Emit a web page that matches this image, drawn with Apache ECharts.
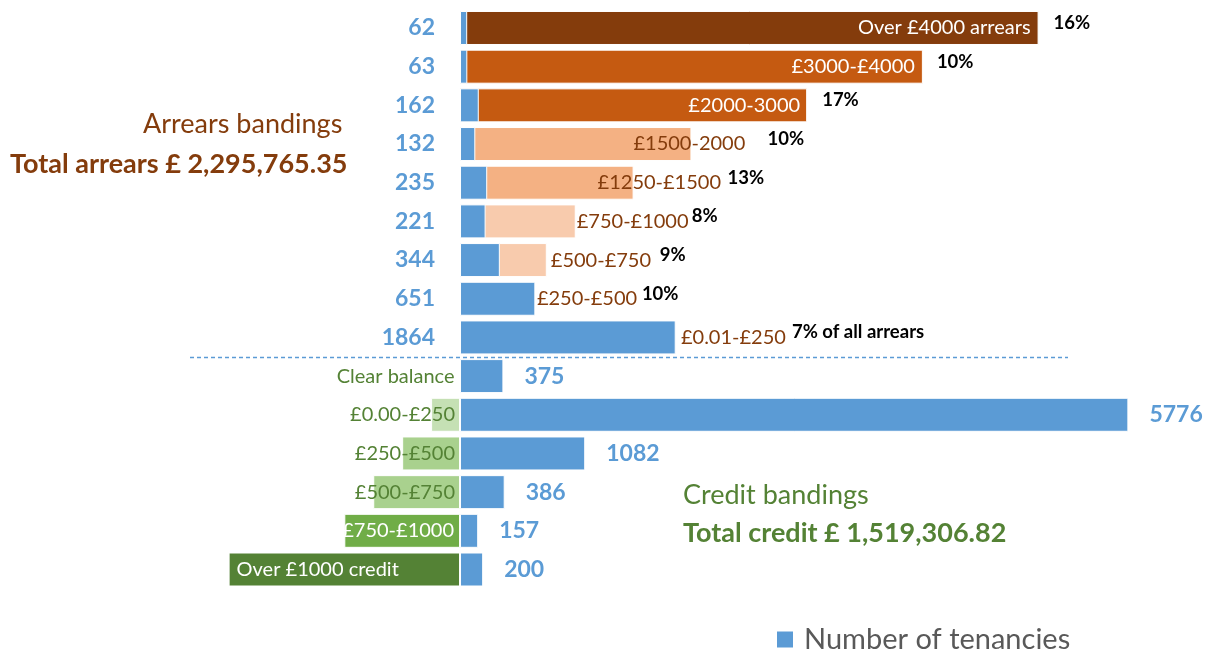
<!DOCTYPE html>
<html>
<head>
<meta charset="utf-8">
<title>Rent balance bandings</title>
<script src="https://cdn.jsdelivr.net/npm/echarts@6/dist/echarts.min.js"></script>
<style>
  html, body { margin: 0; padding: 0; background: #ffffff; }
  #chart { width: 1208px; height: 652px; }
</style>
</head>
<body>
<div id="chart"></div>
<script>
// ---- Data -------------------------------------------------------------
// Arrears bands, highest first; bar length is the band's upper bound (£)
const arrearsBands = ['Over £4000 arrears', '£3000-£4000', '£2000-3000', '£1500-2000', '£1250-£1500',
                      '£750-£1000', '£500-£750', '£250-£500', '£0.01-£250'];
const arrearsUpper = [5000, 4000, 3000, 2000, 1500, 1000, 750, 500, 250];
const arrearsShare = ['16%', '10%', '17%', '10%', '13%', '8%', '9%', '10%', '7% of all arrears'];

// Credit bands, smallest first; bar length is the band's upper bound (£), drawn to the left
const creditBands = ['Clear balance', '£0.00-£250', '£250-£500', '£500-£750', '£750-£1000', 'Over £1000 credit'];
const creditUpper = [0, 250, 500, 750, 1000, 2000];

// Number of tenancies in each band (arrears rows then credit rows)
const tenancies = [62, 63, 162, 132, 235, 221, 344, 651, 1864, 375, 5776, 1082, 386, 157, 200];

const totalArrears = 'Total arrears £ 2,295,765.35';
const totalCredit = 'Total credit £ 1,519,306.82';

// ---- Styling ------------------------------------------------------------
const FONT = 'Lato';
const BLUE = '#5b9bd5';
const BROWN = '#843c0c';
const GREEN = '#548235';

const arrearsColors = ['#843c0c', '#c55a11', '#c55a11', '#f4b183', '#f4b183', '#f8cbad', '#f8cbad', '#fbe5d6', '#fbe5d6'];
const creditColors = ['#e2f0d9', '#c5e0b4', '#a9d18e', '#a9d18e', '#70ad47', '#548235'];

// band-name label placement for the arrears rows
const arrearsLabelPlace = [
  { position: 'insideRight', distance: 8, color: '#ffffff' },
  { position: 'insideRight', distance: 8, color: '#ffffff' },
  { position: 'insideRight', distance: 7, color: '#ffffff' },
  { position: 'right', distance: 0, offset: [-58, 0], color: BROWN },
  { position: 'right', distance: 0, offset: [-36, 0], color: BROWN },
  { position: 'right', distance: 0, offset: [1, 0], color: BROWN },
  { position: 'right', distance: 0, offset: [4, 0], color: BROWN },
  { position: 'right', distance: 0, offset: [19, 0], color: BROWN },
  { position: 'right', distance: 0, offset: [192, 0], color: BROWN }
];
// horizontal nudge of the share labels from the end of each arrears bar
const shareNudge = [15, 14, 15, 76, 94, 116, 113, 124, 303];

// band-name label placement for the credit rows
const creditLabelPlace = [
  { position: 'insideRight', distance: 6, color: GREEN },
  { position: 'insideRight', distance: 5, color: GREEN },
  { position: 'insideRight', distance: 5, color: GREEN },
  { position: 'insideRight', distance: 5, color: GREEN },
  { position: 'insideRight', distance: 6, color: '#ffffff' },
  { position: 'insideLeft', distance: 8, color: '#ffffff' }
];

// ---- Build series data ------------------------------------------------------
const nA = arrearsBands.length;
const nC = creditBands.length;
const categories = arrearsBands.concat(creditBands);

const arrearsData = categories.map((_, i) => {
  if (i >= nA) return '-';
  const p = arrearsLabelPlace[i];
  return {
    value: arrearsUpper[i],
    name: arrearsBands[i],
    itemStyle: { color: arrearsColors[i] },
    label: Object.assign({ show: true }, p)
  };
});

const creditData = categories.map((_, i) => {
  if (i < nA) return '-';
  const j = i - nA;
  const p = creditLabelPlace[j];
  return {
    value: -creditUpper[j],
    name: creditBands[j],
    itemStyle: { color: creditColors[j] },
    label: Object.assign({ show: true }, p)
  };
});

const tenancyData = tenancies.map((v, i) => ({
  value: v,
  label: i < nA
    ? { position: 'left', distance: 25 }
    : { position: 'right', distance: 21 }
}));

const shareMarks = arrearsShare.map((s, i) => ({
  name: s,
  coord: [arrearsUpper[i], i],
  label: { offset: [shareNudge[i], -5] }
}));

// ---- Chart ------------------------------------------------------------------
const chart = echarts.init(document.getElementById('chart'), null, { renderer: 'canvas' });

const barCommon = {
  type: 'bar',
  barWidth: 34,
  barGap: '-100%',
  itemStyle: { borderColor: '#ffffff', borderWidth: 1 },
  emphasis: { disabled: true }
};

const titleText = (weight, color) => ({
  color: color, fontSize: 27, fontWeight: weight, fontFamily: FONT, lineHeight: 30
});

chart.setOption({
  animation: false,
  textStyle: { fontFamily: FONT },
  grid: { left: 228.6, right: 53.7, top: 8.66, bottom: 63.16, containLabel: false },
  xAxis: {
    type: 'value', min: -2000, max: 6000, show: false
  },
  yAxis: {
    type: 'category', data: categories, inverse: true, show: false
  },
  legend: {
    data: ['Number of tenancies'],
    left: 775, top: 624.5, padding: 0,
    icon: 'rect', itemWidth: 18, itemHeight: 18, itemGap: 10,
    textStyle: { color: '#595959', fontSize: 29, fontFamily: FONT, lineHeight: 30, padding: [0, 0, 0, 5] }
  },
  title: [
    { text: 'Arrears bandings', left: 143, top: 109, padding: 0, textStyle: titleText('normal', BROWN) },
    { text: totalArrears, left: 10, top: 149, padding: 0, textStyle: titleText('bold', BROWN) },
    { text: 'Credit bandings', left: 683, top: 480, padding: 0, textStyle: titleText('normal', GREEN) },
    { text: totalCredit, left: 683, top: 518, padding: 0, textStyle: titleText('bold', GREEN) }
  ],
  series: [
    Object.assign({}, barCommon, {
      name: 'Arrears band',
      data: arrearsData,
      label: { fontFamily: FONT, fontSize: 20, formatter: '{b}' },
      markPoint: {
        symbol: 'circle', symbolSize: 0,
        itemStyle: { color: 'transparent' },
        label: {
          show: true, position: 'right', distance: 0, formatter: '{b}',
          color: '#000000', fontWeight: 'bold', fontSize: 18.5, fontFamily: FONT
        },
        emphasis: { disabled: true },
        data: shareMarks
      }
    }),
    Object.assign({}, barCommon, {
      name: 'Credit band',
      data: creditData,
      label: { fontFamily: FONT, fontSize: 20, formatter: '{b}' }
    }),
    Object.assign({}, barCommon, {
      name: 'Number of tenancies',
      data: tenancyData,
      itemStyle: { color: BLUE, borderColor: '#ffffff', borderWidth: 1 },
      label: { show: true, color: BLUE, fontWeight: 'bold', fontSize: 23, fontFamily: FONT }
    })
  ]
});

// dashed divider between the arrears block and the credit block
const yLast = chart.convertToPixel({ yAxisIndex: 0 }, nA - 1);
const yFirst = chart.convertToPixel({ yAxisIndex: 0 }, nA);
const yDiv = Math.round((yLast + yFirst) / 2) + 0.5;
chart.setOption({
  graphic: [{
    type: 'line', silent: true, z: 10,
    shape: { x1: 190, y1: yDiv, x2: 1068, y2: yDiv },
    style: { stroke: BLUE, lineWidth: 1.3, lineDash: [4, 3] }
  }]
});
</script>
</body>
</html>
